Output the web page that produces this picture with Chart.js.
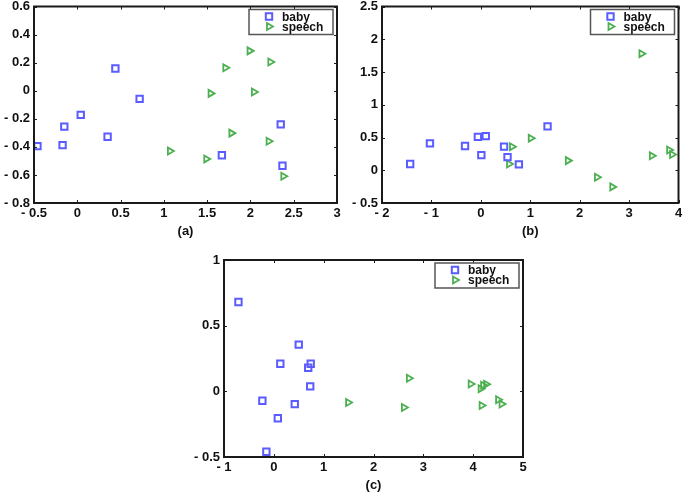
<!DOCTYPE html>
<html>
<head>
<meta charset="utf-8">
<script src="https://cdn.jsdelivr.net/npm/chart.js@4.4.1/dist/chart.umd.min.js"></script>
<style>
html,body{margin:0;padding:0;background:#fff;width:685px;height:494px;overflow:hidden;}
.box{position:absolute;}
</style>
</head>
<body>
<div class="box" style="left:0;top:0;width:345px;height:240px;"><canvas id="ca"></canvas></div>
<div class="box" style="left:340px;top:0;width:345px;height:240px;"><canvas id="cb"></canvas></div>
<div class="box" style="left:180px;top:240px;width:360px;height:254px;"><canvas id="cc"></canvas></div>
<script>
// ---- data ----
const seriesNames = ['baby', 'speech'];
const panelLabels = ['(a)', '(b)', '(c)'];

const aBabyX = [-0.46, -0.17, -0.15, 0.04, 0.35, 0.44, 0.72, 1.67, 2.35, 2.37];
const aBabyY = [-0.395, -0.388, -0.256, -0.172, -0.328, 0.158, -0.058, -0.46, -0.24, -0.535];
const aSpeechX = [1.07, 1.49, 1.54, 1.71, 1.78, 1.99, 2.04, 2.21, 2.23, 2.38];
const aSpeechY = [-0.43, -0.486, -0.019, 0.163, -0.302, 0.284, -0.009, -0.36, 0.205, -0.609];

const bBabyX = [-1.43, -1.03, -0.32, -0.06, 0.10, 0.01, 0.47, 0.54, 0.77, 1.35];
const bBabyY = [0.096, 0.41, 0.37, 0.51, 0.52, 0.23, 0.36, 0.20, 0.09, 0.67];
const bSpeechX = [0.57, 0.63, 1.01, 1.76, 2.35, 2.66, 3.25, 3.46, 3.81, 3.87];
const bSpeechY = [0.096, 0.36, 0.49, 0.147, -0.107, -0.254, 1.78, 0.22, 0.31, 0.24];

const cBabyX = [-0.71, -0.23, -0.15, 0.13, 0.08, 0.50, 0.42, 0.69, 0.74, 0.73];
const cBabyY = [0.68, -0.072, -0.46, 0.21, -0.205, 0.356, -0.097, 0.18, 0.21, 0.038];
const cSpeechX = [1.49, 2.61, 2.71, 3.95, 4.15, 4.20, 4.26, 4.17, 4.50, 4.57];
const cSpeechY = [-0.085, -0.123, 0.10, 0.056, 0.02, 0.046, 0.054, -0.108, -0.064, -0.097];

const aXTicks = [-0.5, 0, 0.5, 1, 1.5, 2, 2.5, 3];
const aYTicks = [-0.8, -0.6, -0.4, -0.2, 0, 0.2, 0.4, 0.6];
const bXTicks = [-2, -1, 0, 1, 2, 3, 4];
const bYTicks = [-0.5, 0, 0.5, 1, 1.5, 2, 2.5];
const cXTicks = [-1, 0, 1, 2, 3, 4, 5];
const cYTicks = [-0.5, 0, 0.5, 1];

// ---- helpers ----
const zip = (xs, ys) => xs.map((x, i) => ({x: x, y: ys[i]}));
const fmt = v => { const r = Math.round(v * 100) / 100; return r < 0 ? '- ' + Math.abs(r) : String(r); };
const FONT = "'Liberation Sans', Arial, sans-serif";

const framePlugin = {
  id: 'frame',
  afterDraw(chart) {
    const ctx = chart.ctx, a = chart.chartArea;
    const xs = chart.scales.x, ys = chart.scales.y;
    ctx.save();
    ctx.strokeStyle = '#1a1a1a';
    ctx.lineWidth = 1;
    // inward tick marks
    ctx.beginPath();
    xs.ticks.forEach(t => {
      const px = Math.round(xs.getPixelForValue(t.value)) + 0.5;
      ctx.moveTo(px, a.bottom); ctx.lineTo(px, a.bottom - 3);
      ctx.moveTo(px, a.top); ctx.lineTo(px, a.top + 3);
    });
    ys.ticks.forEach(t => {
      const py = Math.round(ys.getPixelForValue(t.value)) + 0.5;
      ctx.moveTo(a.left, py); ctx.lineTo(a.left + 3, py);
      ctx.moveTo(a.right, py); ctx.lineTo(a.right - 3, py);
    });
    ctx.stroke();
    // frame
    ctx.lineWidth = 2;
    ctx.strokeRect(a.left, a.top, a.right - a.left, a.bottom - a.top);
    // legend
    const w = 84, h = 25;
    const lx = a.right - 4 - w, ly = a.top + 3;
    ctx.fillStyle = '#fff';
    ctx.fillRect(lx, ly, w, h);
    ctx.strokeStyle = '#555';
    ctx.lineWidth = 1.5;
    ctx.strokeRect(lx, ly, w, h);
    ctx.font = 'bold 12px ' + FONT;
    ctx.textBaseline = 'alphabetic';
    ctx.textAlign = 'left';
    chart.data.datasets.forEach((ds, i) => {
      const cy = ly + 7 + i * 10;
      ctx.strokeStyle = ds.borderColor;
      ctx.fillStyle = 'rgba(0,0,0,0)';
      ctx.lineWidth = ds.borderWidth;
      Chart.helpers.drawPoint(ctx, {pointStyle: ds.pointStyle, rotation: ds.rotation, radius: ds.pointRadius, borderWidth: ds.borderWidth}, lx + 20, cy);
      ctx.fillStyle = '#111';
      ctx.fillText(ds.label, lx + 33, cy + 4);
    });
    ctx.restore();
  }
};

function makeChart(id, babyX, babyY, spX, spY, xTicks, yTicks, label, yWidth, padRight, padTop) {
  const xMin = xTicks[0], xMax = xTicks[xTicks.length - 1];
  const yMin = yTicks[0], yMax = yTicks[yTicks.length - 1];
  const xStep = xTicks[1] - xTicks[0], yStep = yTicks[1] - yTicks[0];
  return new Chart(document.getElementById(id), {
    type: 'scatter',
    data: {
      datasets: [
        {label: seriesNames[0], data: zip(babyX, babyY), pointStyle: 'rect', pointRadius: 4.5, pointHoverRadius: 4.5,
         borderColor: '#5a5cff', backgroundColor: 'rgba(0,0,0,0)', borderWidth: 2, rotation: 0},
        {label: seriesNames[1], data: zip(spX, spY), pointStyle: 'triangle', pointRadius: 4, pointHoverRadius: 4,
         borderColor: '#4caf50', backgroundColor: 'rgba(0,0,0,0)', borderWidth: 1.8, rotation: 90, pointRotation: 90}
      ]
    },
    options: {
      responsive: true, maintainAspectRatio: false, animation: false,
      layout: {padding: {left: 0, right: padRight, top: padTop, bottom: 0}},
      plugins: {legend: {display: false}, tooltip: {enabled: false}},
      scales: {
        x: {
          type: 'linear', min: xMin, max: xMax,
          grid: {display: false, drawTicks: false}, border: {display: false},
          ticks: {stepSize: xStep, padding: 3, color: '#111', font: {family: FONT, size: 13, weight: 'bold'}, callback: v => fmt(v), maxRotation: 0, autoSkip: false},
          title: {display: true, text: label, color: '#111', font: {family: FONT, size: 13, weight: 'bold'}, padding: {top: 0, bottom: 1}},
          afterFit: s => { s.height = 37; s.paddingLeft = 0; s.paddingRight = 0; }
        },
        y: {
          type: 'linear', min: yMin, max: yMax,
          grid: {display: false, drawTicks: false}, border: {display: false},
          ticks: {stepSize: yStep, padding: 4, color: '#111', font: {family: FONT, size: 13, weight: 'bold'}, callback: v => fmt(v), autoSkip: false},
          afterFit: s => { s.width = yWidth; s.paddingTop = 0; s.paddingBottom = 0; }
        }
      }
    },
    plugins: [framePlugin]
  });
}

makeChart('ca', aBabyX, aBabyY, aSpeechX, aSpeechY, aXTicks, aYTicks, panelLabels[0], 34, 8, 5);
makeChart('cb', bBabyX, bBabyY, bSpeechX, bSpeechY, bXTicks, bYTicks, panelLabels[1], 42, 5, 5);
makeChart('cc', cBabyX, cBabyY, cSpeechX, cSpeechY, cXTicks, cYTicks, panelLabels[2], 44, 17, 20);
</script>
</body>
</html>
